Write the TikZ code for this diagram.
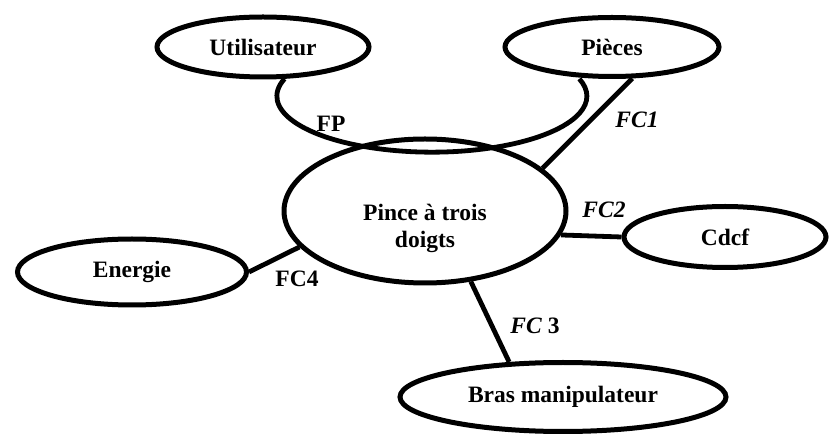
\documentclass[tikz,border=0pt]{standalone}
\usepackage{fontspec}
\setmainfont{Liberation Serif}
\usetikzlibrary{shapes.geometric}
\tikzset{
  bubble/.style={ellipse, draw=black, line width=5pt, inner sep=0pt,
    font=\fontsize{23.5}{27}\selectfont\bfseries, align=center},
  link/.style={draw=black, line width=4.8pt},
  tag/.style={font=\fontsize{23.5}{27}\selectfont\bfseries, inner sep=0pt}
}
\begin{document}
\begin{tikzpicture}[x=1pt,y=1pt]
\useasboundingbox (0,0) rectangle (832,436);
\node[bubble, minimum width=212pt, minimum height=60pt] (user) at (263,389) {Utilisateur};
\node[bubble, minimum width=214pt, minimum height=59pt] (pieces) at (612,389) {Pièces};
\node[bubble, minimum width=282pt, minimum height=144pt,
  label={[yshift=-17pt, font=\fontsize{23.5}{27}\selectfont\bfseries, align=center]center:Pince à trois\\doigts}] (pince) at (425,225) {};
\node[bubble, minimum width=229pt, minimum height=66pt] (energie) at (132,164) {Energie};
\node[bubble, minimum width=202pt, minimum height=61pt] (cdcf) at (725,199) {Cdcf};
\node[bubble, minimum width=326pt, minimum height=69pt] (bras) at (563,39) {Bras manipulateur};

\draw[link] (user.-56) arc[start angle=162, end angle=378, x radius=155, y radius=56];
\draw[link] (pince.20) -- (pieces.-57);
\draw[link] (pince.-10) -- (cdcf.180);
\draw[link] (pince.-57) -- (bras.147);
\draw[link] (pince.196) -- (energie.0);

\node[tag] (fp) at (331,312) {FP};
\node[tag] (fc1) at (637,316) {\itshape FC1};
\node[tag] (fc2) at (604,226) {\itshape FC2};
\node[tag] (fc3) at (535,110) {\textit{FC} 3};
\node[tag] (fc4) at (297,157) {FC4};
\end{tikzpicture}
\end{document}
